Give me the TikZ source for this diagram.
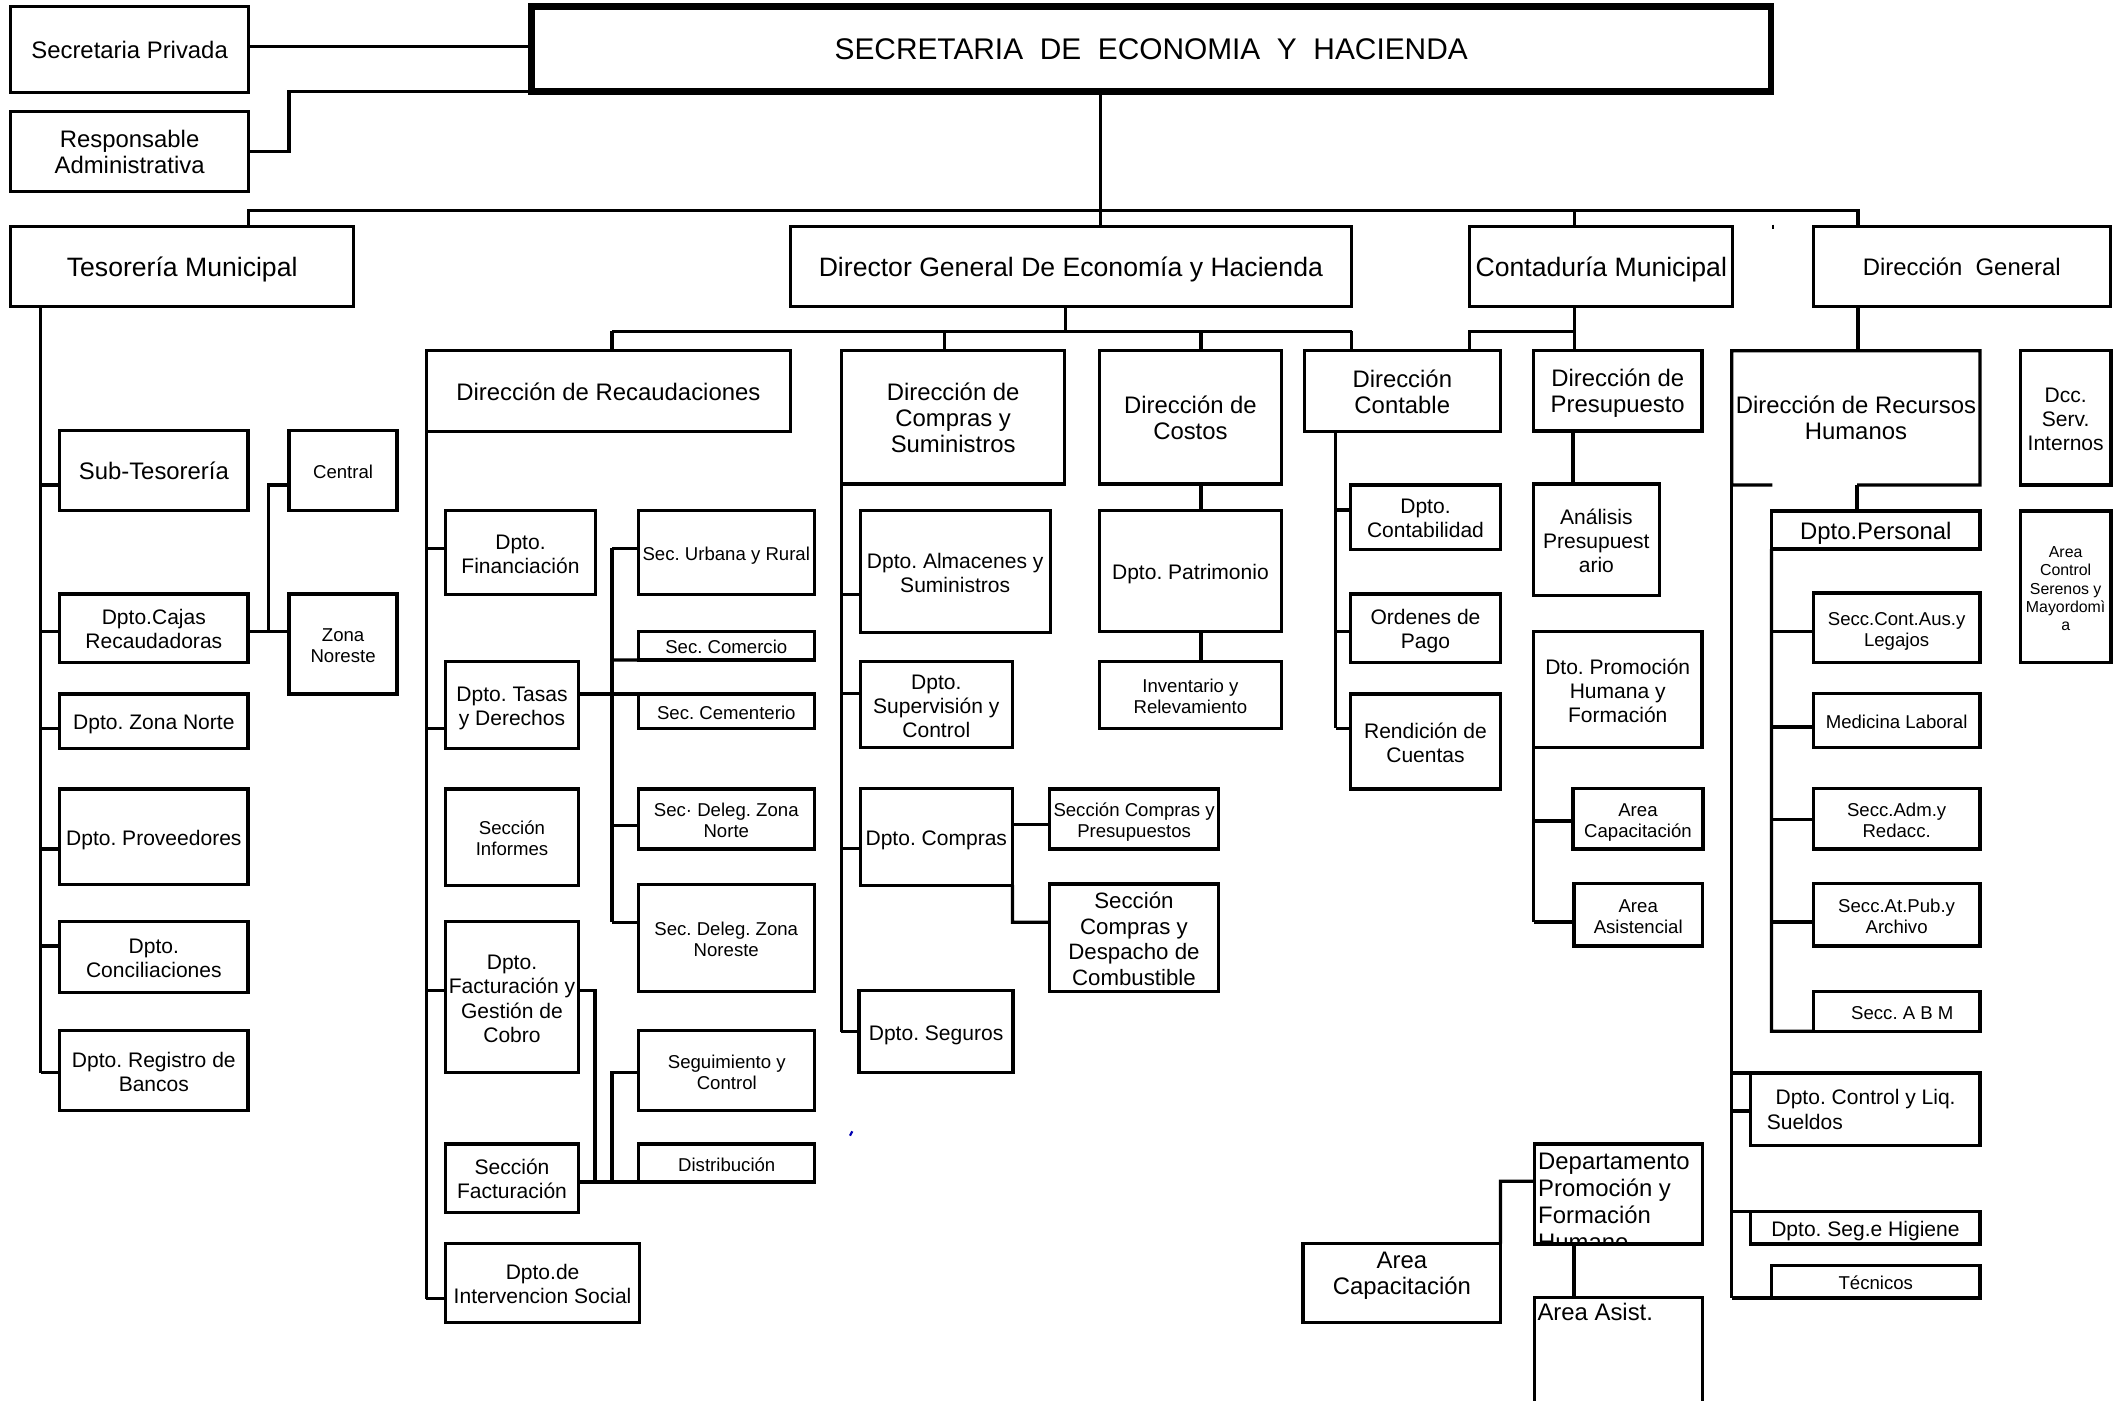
\documentclass[tikz,border=0pt]{standalone}
\usepackage{fontspec}
\setmainfont{Liberation Sans}
\frenchspacing
\newcommand\tx[1]{\makebox[0pt]{\raisebox{-1.4pt}[\height][\depth]{\begin{tabular}{@{}c@{}}#1\end{tabular}}}}
\newcommand\bx[7][]{\node[box,#1,minimum width={(#5-#3)*0.5pt},minimum height={(#6-#4)*0.5pt}] (#2) at ({(#3+#5)/2},{(#4+#6)/2}) {\tx{#7}};}
\newcommand\hb[3]{\draw[ln] (#1,#2) -- (#1,#2 -| #3.west);}
\tikzset{
  box/.style={draw, line width=1.2pt, inner sep=0pt, outer sep=0pt, rectangle},
  titlebox/.style={box, line width=2.5pt},
  ln/.style={line width=1.2pt},
  fA/.style={font=\fontsize{11pt}{12.5pt}\selectfont},
  fB/.style={font=\fontsize{9.8pt}{11pt}\selectfont},
  fC/.style={font=\fontsize{8.8pt}{9.6pt}\selectfont},
  fG/.style={font=\fontsize{8.2pt}{9.4pt}\selectfont},
  fD/.style={font=\fontsize{7.75pt}{8.9pt}\selectfont},
  fE/.style={font=\fontsize{6.85pt}{7.75pt}\selectfont},
  fF/.style={font=\fontsize{5.85pt}{6.75pt}\selectfont},
}
\begin{document}
\frenchspacing
\begin{tikzpicture}[x=0.5pt,y=-0.5pt]
\fill[white] (0,0) rectangle (1568,1032);
\useasboundingbox (0,0) rectangle (1568,1032);

% ---------- top ----------
\bx[fC]{sp}{8}{5}{183}{68}{Secretaria Privada}
\bx[fC]{ra}{8}{82}{183}{141}{Responsable\\Administrativa}
\node[titlebox,fA,minimum width={(1305-391.5)*0.5pt},minimum height={(67.5-5)*0.5pt}] (title) at ({(391.5+1305)/2},{(5+67.5)/2}) {SECRETARIA\ \ DE\ \ ECONOMIA\ \ Y\ \ HACIENDA};
\draw[ln] (sp.east |- 0,34) -- (title.west |- 0,34);
\draw[ln] (ra.east) -| (213,67.5) -- (title.south west);

% ---------- level 1 ----------
\bx[fB]{tes}{8}{167}{260.5}{226}{Tesorería Municipal}
\bx[fB]{dir}{582.5}{167}{995.6}{226}{Director General De Economía y Hacienda}
\bx[fB]{cm}{1083}{167}{1276.8}{226}{Contaduría Municipal}
\bx[fC]{dg}{1336}{167}{1555}{226}{Dirección\ \ General}
\draw[ln] (810.8,0 |- title.south) -- (810.8,0 |- dir.north);
\draw[ln] (183,0 |- tes.north) -- (183,155) -- (1369,155) -- (1369,0 |- dg.north);
\draw[ln] (1160,155) -- (1160,0 |- cm.north);
\draw[line width=0.6pt] (1306.6,165.5) -- (1306.6,168.8);

% ---------- Tesoreria ----------
\bx[fC]{subtes}{44}{317}{182.7}{376.3}{Sub-Tesorería}
\bx[fE]{central}{213}{317}{292.6}{376.3}{Central}
\bx[fD]{cajas}{44}{437.7}{182.7}{488}{Dpto.Cajas\\Recaudadoras}
\bx[fE]{zn}{213}{437.7}{292.6}{511.4}{Zona\\Noreste}
\bx[fD]{zonan}{44}{511.4}{182.7}{551.4}{Dpto. Zona Norte}
\bx[fD]{prov}{44}{581.4}{182.7}{652}{Dpto. Proveedores}
\bx[fD]{conc}{44}{679.2}{182.7}{731.3}{Dpto.\\Conciliaciones}
\bx[fD]{bancos}{44}{759.5}{182.7}{818.5}{Dpto. Registro de\\Bancos}
\draw[ln] (30,0 |- tes.south) -- (30,790.5);
\hb{30}{357.4}{subtes}
\hb{30}{465.5}{cajas}
\hb{30}{536.7}{zonan}
\hb{30}{625.6}{prov}
\hb{30}{697.1}{conc}
\hb{30}{790.5}{bancos}
\draw[ln] (cajas.east |- 0,465.5) -- (zn.west |- 0,465.5);
\draw[ln] (198,465.5) -- (198,357.4) -- (central.west |- 0,357.4);

% ---------- Director General ----------
\draw[ln] (785,0 |- dir.south) -- (785,244);
\draw[ln] (451,244) -- (996,244);
\bx[fC]{rec}{314}{258.5}{582.5}{318}{Dirección de Recaudaciones}
\bx[fC]{dcs}{620}{258.5}{784.6}{356.7}{Dirección de\\Compras y\\Suministros}
\bx[fC]{dco}{810}{258.5}{944.3}{356.7}{Dirección de\\Costos}
\bx[fC]{dct}{961}{258.5}{1105.5}{318}{Dirección\\Contable}
\draw[ln] (451,244) -- (451,0 |- rec.north);
\draw[ln] (696,244) -- (696,0 |- dcs.north);
\draw[ln] (885,244) -- (885,0 |- dco.north);
\draw[ln] (996,244) -- (996,0 |- dct.north);

% ---------- Recaudaciones ----------
\bx[fD]{fin}{328.2}{376.3}{438.8}{438}{Dpto.\\Financiación}
\bx[fD]{tasas}{328.2}{487.6}{426.3}{551.4}{Dpto. Tasas\\y Derechos}
\bx[fE]{informes}{328.2}{581.4}{426.3}{652.2}{Sección\\Informes}
\bx[fD]{fact}{328.2}{679.2}{426.3}{790.5}{Dpto.\\Facturación y\\Gestión de\\Cobro}
\bx[fD]{secfact}{328.2}{843}{426.3}{893.4}{Sección\\Facturación}
\bx[fD]{intsoc}{328.2}{916.2}{471.4}{974.7}{Dpto.de\\Intervencion Social}
\bx[fE]{urb}{470.3}{376.3}{600}{438}{Sec. Urbana y Rural}
\bx[fE]{com}{470.3}{465.5}{600}{486.4}{Sec. Comercio}
\bx[fE]{cem}{470.3}{511.4}{600}{536.7}{Sec. Cementerio}
\bx[fE]{dzn}{470.3}{581.4}{600}{625.6}{Sec· Deleg. Zona\\Norte}
\bx[fE]{dzne}{470.3}{651.7}{600}{730.8}{Sec. Deleg. Zona\\Noreste}
\bx[fE]{seg}{470.7}{759.5}{600.3}{818.5}{Seguimiento y\\Control}
\bx[fE]{dist}{470.7}{843}{600.3}{871}{Distribución}
\draw[ln] (rec.south west) -- (314,956.8);
\hb{314}{404}{fin}
\hb{314}{536.7}{tasas}
\hb{314}{730}{fact}
\hb{314}{956.8}{intsoc}
\draw[ln] (tasas.east |- cem.north) -- (cem.north west);
\draw[ln] (451,404) -- (451,679.7);
\hb{451}{404}{urb}
\draw[ln] (451,486.4) -- (com.south west);
\hb{451}{608}{dzn}
\hb{451}{679.7}{dzne}
\draw[ln] (fact.east |- 0,730) -- (438.5,730) -- (438.5,871);
\draw[ln] (secfact.east |- dist.south) -- (dist.south west);
\draw[ln] (451,871) -- (451,790.2) -- (seg.west |- 0,790.2);

% ---------- Compras ----------
\bx[fD]{alm}{633.8}{376.3}{773.8}{466}{Dpto. Almacenes y\\Suministros}
\bx[fD]{sup}{633.8}{487.6}{746}{551}{Dpto.\\Supervisión y\\Control}
\bx[fD]{dcomp}{633.8}{581}{746}{652.2}{Dpto. Compras}
\bx[fE]{scp}{773.3}{581.4}{898}{625.6}{Sección Compras y\\Presupuestos}
\bx[fG]{scd}{773.3}{651.4}{897.8}{730.8}{Sección\\Compras y\\Despacho de\\Combustible}
\bx[fD]{seguros}{633}{730}{746.5}{790.5}{Dpto. Seguros}
\draw[ln] (dcs.south west) -- (620,760.3);
\hb{620}{438}{alm}
\hb{620}{511}{sup}
\hb{620}{625}{dcomp}
\hb{620}{760.3}{seguros}
\draw[ln] (dcomp.east |- 0,607.5) -- (scp.west |- 0,607.5);
\draw[ln] (dcomp.south east) -- (746,679.5) -- (scd.west |- 0,679.5);

% ---------- Costos ----------
\bx[fD]{pat}{810}{376.3}{944.3}{465.5}{Dpto. Patrimonio}
\bx[fE]{inv}{810}{487.6}{944.3}{536.7}{Inventario y\\Relevamiento}
\draw[ln] (885,0 |- dco.south) -- (885,0 |- pat.north);
\draw[ln] (885,0 |- pat.south) -- (885,0 |- inv.north);

% ---------- Contable ----------
\bx[fD]{cont}{995}{357.4}{1105.7}{404.8}{Dpto.\\Contabilidad}
\bx[fD]{op}{995}{437.7}{1105.7}{488}{Ordenes de\\Pago}
\bx[fD]{rend}{995}{511.4}{1105.7}{581.4}{Rendición de\\Cuentas}
\draw[ln] (984.3,0 |- dct.south) -- (984.3,536.7);
\hb{984.3}{375.8}{cont}
\hb{984.3}{465.5}{op}
\hb{984.3}{536.7}{rend}

% ---------- Contaduria / Presupuesto ----------
\bx[fC]{dp}{1130}{258.5}{1254}{317.5}{Dirección de\\Presupuesto}
\draw[ln] (1160,0 |- cm.south) -- (1160,0 |- dp.north);
\draw[ln] (1160,244) -- (1083,244) -- (1083,0 |- dct.north);
\bx[fD]{ap}{1130}{356.7}{1222.5}{439}{Análisis\\Presupuest\\ario}
\bx[fD]{dph}{1130}{465.5}{1254}{551}{Dto. Promoción\\Humana y\\Formación}
\bx[fE]{acap}{1159}{580.8}{1254.8}{625.6}{Area\\Capacitación}
\bx[fE]{aasis}{1159.7}{651}{1254.5}{697}{Area\\Asistencial}
\draw[ln] (1159,0 |- dp.south) -- (1159,0 |- ap.north);
\draw[ln] (dph.south west) -- (1130,679.4);
\hb{1130}{605}{acap}
\hb{1130}{679.4}{aasis}

% ---------- Recursos Humanos ----------
\node[fC,inner sep=0pt,outer sep=0pt,minimum width={(1459-1276)*0.5pt},minimum height={(357.4-258.5)*0.5pt}] (drh) at ({(1276+1459)/2},{(258.5+357.4)/2}) {\tx{Dirección de Recursos\\Humanos}};
\draw[ln] (1306,357.4) -- (drh.south west) -- (drh.north west) -- (drh.north east) -- (drh.south east) -- (1368.3,0 |- drh.south);
\draw[ln] (1369,0 |- dg.south) -- (1369,0 |- drh.north);
\bx[fD]{dsi}{1488.6}{258.5}{1555.5}{357.4}{Dcc.\\Serv.\\Internos}
\bx[fF]{acs}{1488.6}{376.6}{1555.5}{488}{Area\\Control\\Serenos y\\Mayordomì\\a}
\bx[fC]{dper}{1305.3}{376.6}{1459}{404.6}{Dpto.Personal}
\draw[ln] (1368.3,0 |- drh.south) -- (1368.3,0 |- dper.north);
\bx[fE]{scal}{1336}{437}{1459}{488}{Secc.Cont.Aus.y\\Legajos}
\bx[fE]{ml}{1336}{510.8}{1459}{551}{Medicina Laboral}
\bx[fE]{sar}{1336}{580.8}{1459}{625.6}{Secc.Adm.y\\Redacc.}
\bx[fE]{sap}{1336}{651}{1459}{697}{Secc.At.Pub.y\\Archivo}
\bx[fE]{abm}{1336}{730.6}{1459}{759.8}{\hspace*{4.2pt}Secc. A B M}
\draw[ln] (dper.south west) -- (1305.3,759.8) -- (abm.south west);
\hb{1305.3}{465.5}{scal}
\hb{1305.3}{535.7}{ml}
\hb{1305.3}{604}{sar}
\hb{1305.3}{679.4}{sap}
\draw[ln] (drh.south west) -- (1276,956.4);
\node[box,minimum width={(1459-1290)*0.5pt},minimum height={(843.8-790.7)*0.5pt}] (dcl) at ({(1290+1459)/2},{(790.7+843.8)/2}) {};
\node[fD,anchor=west,inner sep=0pt] (dclt) at (1301.5,819.5) {\begin{tabular}{@{}l@{}}\hspace*{3.2pt}Dpto. Control y Liq.\\Sueldos\end{tabular}};
\draw[ln] (1276,0 |- dcl.north) -- (dcl.north west);
\hb{1276}{818.6}{dcl}
\bx[fD]{dsh}{1290}{892.9}{1459}{916.7}{Dpto. Seg.e Higiene}
\draw[ln] (1276,0 |- dsh.north) -- (dsh.north west);
\bx[fE]{tec}{1305.3}{932.7}{1459}{956.4}{Técnicos}
\draw[ln] (1276,0 |- tec.south) -- (tec.south west);

% ---------- bottom group ----------
\begin{scope}
  \clip (1131,843) rectangle (1254,916.7);
  \node[anchor=north west,inner sep=0pt,font=\fontsize{8.8pt}{10pt}\selectfont] (dpft) at (1133,847) {\begin{tabular}{@{}l@{}}Departamento\\Promoción y\\Formación\\Humano\end{tabular}};
\end{scope}
\node[box,minimum width={(1254.5-1130.4)*0.5pt},minimum height={(916.7-843)*0.5pt}] (dpf) at ({(1130.4+1254.5)/2},{(843+916.7)/2}) {};
\node[box,minimum width={(1105.7-960)*0.5pt},minimum height={(974.2-916.4)*0.5pt}] (acl) at ({(960+1105.7)/2},{(916.4+974.2)/2}) {};
\node[fC,inner sep=0pt] (aclt) at (1033,937.5) {\tx{Area\\Capacitación}};
\draw[ln] (acl.north east) -- (1105.7,870.3) -- (dpf.west |- 0,870.3);
\node[inner sep=0pt,outer sep=0pt,minimum width={(1254.5-1130.4)*0.5pt},minimum height={(1032-956)*0.5pt}] (aas) at ({(1130.4+1254.5)/2},{(956+1032)/2}) {};
\draw[ln] (aas.south west) -- (aas.north west) -- (aas.north east) -- (aas.south east);
\node[fC,anchor=north west,inner sep=0pt] (aast) at (1132.5,960) {Area Asist.};
\draw[ln] (1159.8,0 |- dpf.south) -- (1159.8,0 |- aas.north);

% small stray mark
\draw[blue!70!black,line width=0.8pt] (626.3,836.8) -- (628,833.6);
\end{tikzpicture}
\end{document}
